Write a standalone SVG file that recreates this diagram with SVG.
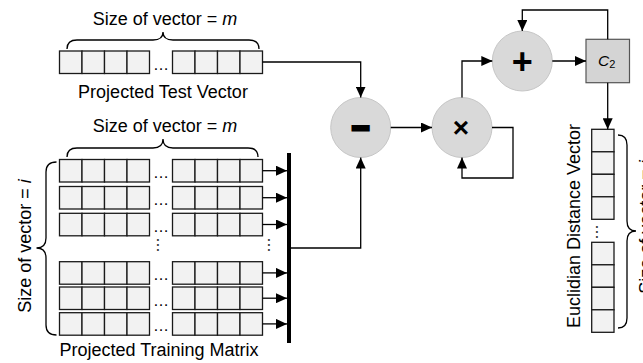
<svg xmlns="http://www.w3.org/2000/svg" xmlns:xlink="http://www.w3.org/1999/xlink" width="643" height="363" viewBox="0 0 643 363">
<style>
.cell{fill:#f2f2f2;stroke:#1a1a1a;stroke-width:1.3}
.lbl{font-family:"Liberation Sans",Arial,sans-serif;font-size:18px;fill:#000}
.dots{font-family:"Liberation Sans",Arial,sans-serif;font-size:16px;fill:#000;text-anchor:middle}
.brace{fill:none;stroke:#000;stroke-width:1.3}
.conn{fill:none;stroke:#000;stroke-width:1.3}
.op{fill:#d9d9d9;stroke:#c6c6c6;stroke-width:1}
.sym{font-family:"Liberation Sans",Arial,sans-serif;font-weight:bold;fill:#000;text-anchor:middle}
</style>
<defs>
<marker id="ah" markerUnits="userSpaceOnUse" markerWidth="11" markerHeight="10" refX="11" refY="5" orient="auto">
<path d="M0,0 L11,5 L0,10 z" fill="#000"/>
</marker>
<g id="quad">
<rect class="cell" x="0" y="0" width="22.5" height="22.5"/>
<rect class="cell" x="22.5" y="0" width="22.5" height="22.5"/>
<rect class="cell" x="45" y="0" width="22.5" height="22.5"/>
<rect class="cell" x="67.5" y="0" width="22.5" height="22.5"/>
</g>
<g id="row">
<use xlink:href="#quad" x="0" y="0"/>
<use xlink:href="#quad" x="113" y="0"/>
</g>
<g id="vquad">
<rect class="cell" x="0" y="0" width="22.3" height="22.5"/>
<rect class="cell" x="0" y="22.5" width="22.3" height="22.5"/>
<rect class="cell" x="0" y="45" width="22.3" height="22.5"/>
<rect class="cell" x="0" y="67.5" width="22.3" height="22.5"/>
</g>
</defs>
<rect width="643" height="363" fill="#fff"/>

<g id="test-vector">
<text class="lbl" x="165" y="25" text-anchor="middle">Size of vector = <tspan font-style="italic">m</tspan></text>
<path class="brace" d="M67,49 Q67,40 77,40 H153 Q163,40 163,32 Q163,40 173,40 H249 Q259,40 259,49"/>
<use xlink:href="#row" x="59.5" y="51"/>
<text class="dots" x="161" y="70">…</text>
<text class="lbl" x="163" y="98" text-anchor="middle" font-size="17.6">Projected Test Vector</text>
</g>

<g id="training-matrix">
<text class="lbl" x="165" y="131.5" text-anchor="middle">Size of vector = <tspan font-style="italic">m</tspan></text>
<path class="brace" d="M67,157 Q67,148 77,148 H153 Q163,148 163,139 Q163,148 173,148 H248 Q258,148 258,157"/>
<path class="brace" d="M56.5,162 Q46,162 46,172 V238 Q46,248 36.5,248 Q46,248 46,258 V325 Q46,335 56.5,335"/>
<text class="lbl" transform="translate(31,246) rotate(-90)" text-anchor="middle">Size of vector = <tspan font-style="italic">i</tspan></text>
<use xlink:href="#row" x="59.5" y="159.5"/>
<use xlink:href="#row" x="59.5" y="186.5"/>
<use xlink:href="#row" x="59.5" y="213.3"/>
<use xlink:href="#row" x="59.5" y="261.7"/>
<use xlink:href="#row" x="59.5" y="287"/>
<use xlink:href="#row" x="59.5" y="312.7"/>
<text class="dots" x="161" y="178">…</text>
<text class="dots" x="161" y="205">…</text>
<text class="dots" x="161" y="231.8">…</text>
<text class="dots" x="161" y="280.2">…</text>
<text class="dots" x="161" y="305.5">…</text>
<text class="dots" x="161" y="331.2">…</text>
<text class="dots" transform="translate(158,245) rotate(90)" y="1">…</text>
<text class="dots" transform="translate(269,245) rotate(90)" y="1">…</text>
<text class="lbl" x="159" y="356" text-anchor="middle" font-size="17.6">Projected Training Matrix</text>
</g>

<g id="bus">
<rect x="287" y="153" width="4" height="190" fill="#000"/>
</g>

<g id="subtract">
<circle class="op" cx="360.7" cy="127.5" r="30"/>
<text class="sym" x="360.7" y="137.5" font-size="30" stroke="#000" stroke-width="3.2">−</text>
</g>

<g id="multiply">
<circle class="op" cx="462" cy="127.5" r="30"/>
<text class="sym" x="461" y="137" font-size="28">×</text>
</g>

<g id="add">
<circle class="op" cx="522.3" cy="61" r="30"/>
<text class="sym" x="522.3" y="73.5" font-size="36">+</text>
</g>

<g id="c2">
<rect x="586" y="39.3" width="43.5" height="43.4" fill="#d4d4d4" stroke="#555" stroke-width="1.2"/>
<text x="598" y="66" font-family="'Liberation Sans',Arial,sans-serif" font-size="15.5" font-style="italic">C<tspan font-style="normal" font-size="11" dy="2">2</tspan></text>
</g>

<g id="distance-vector">
<use xlink:href="#vquad" x="591.7" y="129.3"/>
<use xlink:href="#vquad" x="591.7" y="242.3"/>
<text class="dots" transform="translate(597,232) rotate(90)" y="1">…</text>
<text class="lbl" transform="translate(580,226) rotate(-90)" text-anchor="middle" font-size="19.5">Euclidian Distance  Vector</text>
<path class="brace" d="M618,135 Q627,135 627,145 V221 Q627,231 636,231 Q627,231 627,241 V318 Q627,328 618,328"/>
<text class="lbl" transform="translate(652,227) rotate(-90)" text-anchor="middle">Size of vector = <tspan font-style="italic">i</tspan></text>
</g>

<g id="connectors">
<path class="conn" d="M262.5,170.7 H287" marker-end="url(#ah)"/>
<path class="conn" d="M262.5,197.7 H287" marker-end="url(#ah)"/>
<path class="conn" d="M262.5,224.5 H287" marker-end="url(#ah)"/>
<path class="conn" d="M262.5,272.9 H287" marker-end="url(#ah)"/>
<path class="conn" d="M262.5,298.2 H287" marker-end="url(#ah)"/>
<path class="conn" d="M262.5,323.9 H287" marker-end="url(#ah)"/>
<path class="conn" d="M262.5,62 H360.7 V97.5" marker-end="url(#ah)"/>
<path class="conn" d="M291,248 H360.7 V157.5" marker-end="url(#ah)"/>
<path class="conn" d="M390.7,127.5 H432" marker-end="url(#ah)"/>
<path class="conn" d="M462,97.5 V61 H492.3" marker-end="url(#ah)"/>
<path class="conn" d="M492,127.5 H513 V178 H462 V157.5" marker-end="url(#ah)"/>
<path class="conn" d="M552.3,61 H586" marker-end="url(#ah)"/>
<path class="conn" d="M607.7,39.3 V10 H522.3 V31" marker-end="url(#ah)"/>
<path class="conn" d="M607.7,82.7 V129.3" marker-end="url(#ah)"/>
</g>
</svg>
